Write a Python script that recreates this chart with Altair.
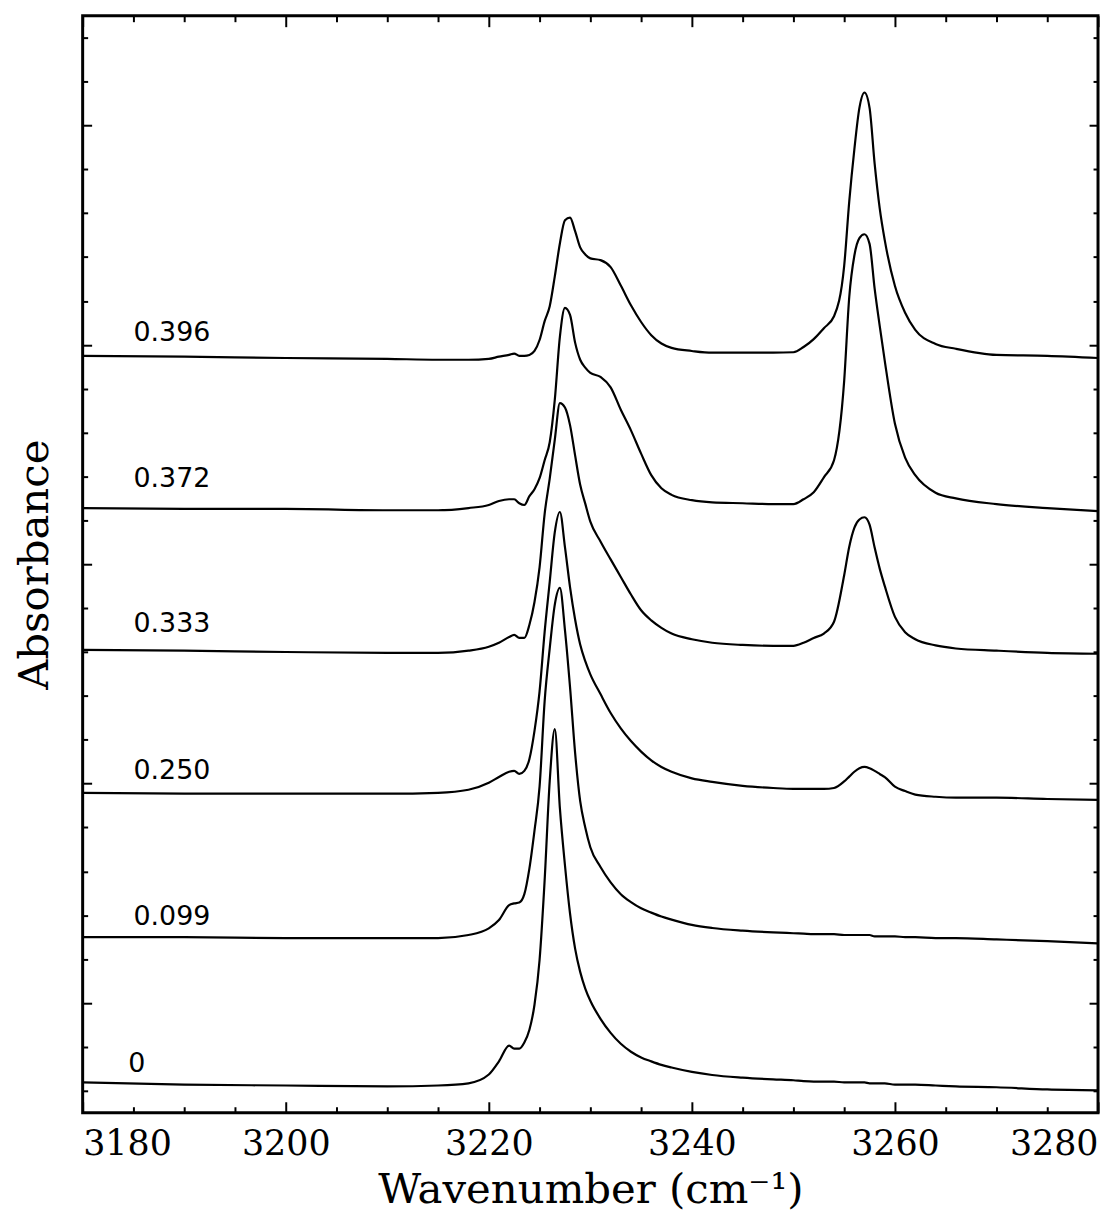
import altair as alt
import pandas as pd

# Wavenumber grid (cm^-1)
wavenumber = [3180, 3190, 3200, 3210, 3215, 3218, 3220, 3221, 3222, 3222.5, 3223, 3223.5,
              3224, 3224.5, 3225, 3225.5, 3226, 3226.5, 3227, 3227.5, 3228, 3228.5, 3229,
              3229.5, 3230, 3231, 3232, 3233, 3234, 3235, 3236, 3237, 3238, 3240, 3242,
              3245, 3248, 3250, 3251, 3252, 3253, 3254, 3255, 3255.5, 3256, 3256.5, 3257, 3257.5,
              3258, 3258.5, 3259, 3260, 3261, 3262, 3264, 3266, 3270, 3275, 3280]

# Absorbance of each spectrum (before vertical offset)
abs_0 = [0, -0.005, -0.007, -0.009, -0.007, -0.002, 0.018, 0.048, 0.084, 0.077, 0.077, 0.091,
         0.120, 0.177, 0.279, 0.461, 0.687, 0.805, 0.625, 0.495, 0.385, 0.305, 0.252,
         0.214, 0.186, 0.145, 0.113, 0.088, 0.070, 0.057, 0.048, 0.040, 0.034, 0.024, 0.017,
         0.011, 0.007, 0.005, 0.003, 0.002, 0.002, 0.002, 0.000, 0.000, 0.000, 0.000, 0.000, -0.002,
         -0.002, -0.002, -0.002, -0.005, -0.005, -0.005, -0.007, -0.009, -0.011, -0.016, -0.018]
abs_099 = [0, 0, -0.002, -0.002, -0.002, 0.005, 0.020, 0.039, 0.073, 0.077, 0.079, 0.098,
           0.157, 0.243, 0.343, 0.538, 0.658, 0.758, 0.796, 0.700, 0.570, 0.420, 0.310,
           0.250, 0.205, 0.160, 0.125, 0.098, 0.080, 0.066, 0.056, 0.047, 0.040, 0.028, 0.021,
           0.015, 0.011, 0.009, 0.008, 0.007, 0.007, 0.007, 0.005, 0.005, 0.005, 0.005, 0.005, 0.005,
           0.002, 0.002, 0.002, 0.002, 0.000, 0.000, -0.002, -0.002, -0.005, -0.009, -0.014]
abs_250 = [0, -0.002, -0.002, -0.002, 0.000, 0.007, 0.023, 0.036, 0.048, 0.050, 0.043, 0.050,
           0.077, 0.141, 0.231, 0.367, 0.481, 0.594, 0.640, 0.560, 0.469, 0.395, 0.338,
           0.300, 0.270, 0.225, 0.182, 0.147, 0.118, 0.094, 0.074, 0.059, 0.048, 0.033, 0.025,
           0.016, 0.011, 0.009, 0.009, 0.009, 0.009, 0.011, 0.026, 0.037, 0.048, 0.056, 0.059, 0.056,
           0.050, 0.043, 0.036, 0.014, 0.004, -0.004, -0.009, -0.011, -0.011, -0.014, -0.016]
abs_333 = [0, -0.002, -0.005, -0.007, -0.007, -0.002, 0.007, 0.016, 0.029, 0.034, 0.027, 0.027,
           0.057, 0.109, 0.188, 0.310, 0.390, 0.479, 0.562, 0.552, 0.512, 0.443, 0.376,
           0.333, 0.292, 0.247, 0.206, 0.166, 0.126, 0.090, 0.067, 0.050, 0.037, 0.024, 0.016,
           0.011, 0.009, 0.009, 0.016, 0.027, 0.037, 0.064, 0.170, 0.235, 0.278, 0.297, 0.302, 0.285,
           0.233, 0.185, 0.145, 0.075, 0.040, 0.024, 0.010, 0.003, -0.002, -0.007, -0.009]
abs_372 = [0, -0.002, -0.002, -0.005, -0.005, 0.000, 0.007, 0.016, 0.020, 0.020, 0.011, 0.007,
           0.027, 0.043, 0.068, 0.109, 0.150, 0.247, 0.390, 0.456, 0.440, 0.377, 0.338,
           0.320, 0.308, 0.299, 0.275, 0.224, 0.177, 0.124, 0.075, 0.045, 0.030, 0.018, 0.013,
           0.011, 0.009, 0.009, 0.020, 0.036, 0.070, 0.109, 0.290, 0.481, 0.575, 0.615, 0.624, 0.602,
           0.500, 0.415, 0.335, 0.192, 0.115, 0.075, 0.035, 0.022, 0.009, 0.000, -0.007]
abs_396 = [0, -0.002, -0.005, -0.007, -0.009, -0.009, -0.007, -0.002, 0.002, 0.005, 0.000, 0.000,
           0.002, 0.011, 0.036, 0.079, 0.113, 0.181, 0.256, 0.309, 0.315, 0.284, 0.247,
           0.231, 0.222, 0.218, 0.202, 0.160, 0.115, 0.077, 0.047, 0.028, 0.018, 0.011, 0.007,
           0.007, 0.007, 0.008, 0.020, 0.038, 0.063, 0.090, 0.205, 0.352, 0.470, 0.565, 0.600, 0.565,
           0.438, 0.336, 0.263, 0.159, 0.098, 0.059, 0.027, 0.016, 0.002, 0.000, -0.005]

series_labels = ["0", "0.099", "0.250", "0.333", "0.372", "0.396"]
series_offsets = [-0.181, 0.150, 0.479, 0.805, 1.128, 1.475]
spectra = [abs_0, abs_099, abs_250, abs_333, abs_372, abs_396]

label_x = [3184.5, 3185, 3185, 3185, 3185, 3185]
label_y = [-0.138, 0.195, 0.529, 0.864, 1.193, 1.527]

x_major = [3180, 3200, 3220, 3240, 3260, 3280]
x_minor = [3185, 3190, 3195, 3205, 3210, 3215, 3225, 3230, 3235, 3245, 3250, 3255,
           3265, 3270, 3275]
y_major = [0.0, 0.5, 1.0, 1.5, 2.0]
y_minor = [-0.2, -0.1, 0.1, 0.2, 0.3, 0.4, 0.6, 0.7, 0.8, 0.9, 1.1, 1.2, 1.3, 1.4,
           1.6, 1.7, 1.8, 1.9, 2.1, 2.2]

rows = []
for name, off, vals in zip(series_labels, series_offsets, spectra):
    for w, a in zip(wavenumber, vals):
        rows.append({"wn": w, "A": round(a + off, 4), "series": name})
df = pd.DataFrame(rows)

lab_df = pd.DataFrame({"x": label_x, "y": label_y, "label": series_labels})

xscale = alt.Scale(domain=[3180, 3280], nice=False, zero=False)
yscale = alt.Scale(domain=[-0.25, 2.25], nice=False, zero=False)

SERIF = "DejaVu Serif"


def tick_axis(orient, values, size, **kw):
    return alt.Axis(orient=orient, values=values, tickSize=size, offset=-size,
                    domain=False, grid=False, ticks=True, tickColor="black",
                    tickWidth=2, **kw)


bottom_major = tick_axis("bottom", x_major, 11, labels=True, labelFlush=True, format="d",
                         labelFont=SERIF, labelFontSize=35, labelColor="black",
                         labelPadding=14, title="Wavenumber (cm\u207b\u00b9)",
                         titleFont=SERIF, titleFontSize=42, titleFontWeight="normal",
                         titleColor="black", titlePadding=8)
left_major = tick_axis("left", y_major, 9, labels=False, title="Absorbance",
                       titleFont=SERIF, titleFontSize=42, titleFontWeight="normal",
                       titleColor="black", titlePadding=25)

lines = alt.Chart(df).mark_line(color="black", strokeWidth=2.2, interpolate="monotone").encode(
    x=alt.X("wn:Q", scale=xscale, axis=bottom_major),
    y=alt.Y("A:Q", scale=yscale, axis=left_major),
    detail="series:N",
)

minor_bl = alt.Chart(df).mark_point(opacity=0, size=1).encode(
    x=alt.X("wn:Q", scale=xscale, axis=tick_axis("bottom", x_minor, 6, labels=False, title=None)),
    y=alt.Y("A:Q", scale=yscale, axis=tick_axis("left", y_minor, 5, labels=False, title=None)),
)
major_tr = alt.Chart(df).mark_point(opacity=0, size=1).encode(
    x=alt.X("wn:Q", scale=xscale, axis=tick_axis("top", x_major, 11, labels=False, title=None)),
    y=alt.Y("A:Q", scale=yscale, axis=tick_axis("right", y_major, 9, labels=False, title=None)),
)
minor_tr = alt.Chart(df).mark_point(opacity=0, size=1).encode(
    x=alt.X("wn:Q", scale=xscale, axis=tick_axis("top", x_minor, 6, labels=False, title=None)),
    y=alt.Y("A:Q", scale=yscale, axis=tick_axis("right", y_minor, 5, labels=False, title=None)),
)

texts = alt.Chart(lab_df).mark_text(align="left", baseline="middle", font="DejaVu Sans",
                                    fontSize=27, color="black").encode(
    x=alt.X("x:Q", scale=xscale, axis=None),
    y=alt.Y("y:Q", scale=yscale, axis=None),
    text="label:N",
)

chart = alt.layer(lines, minor_bl, major_tr, minor_tr, texts).resolve_axis(
    x="independent", y="independent"
).properties(
    width=1020, height=1102,
    padding={"left": 75, "top": 5, "right": 4, "bottom": 101},
    autosize=alt.AutoSizeParams(type="none"),
    background="white",
).configure_view(stroke="black", strokeWidth=3)

chart.save("out.html", embed_options={"renderer": "svg", "actions": False})
